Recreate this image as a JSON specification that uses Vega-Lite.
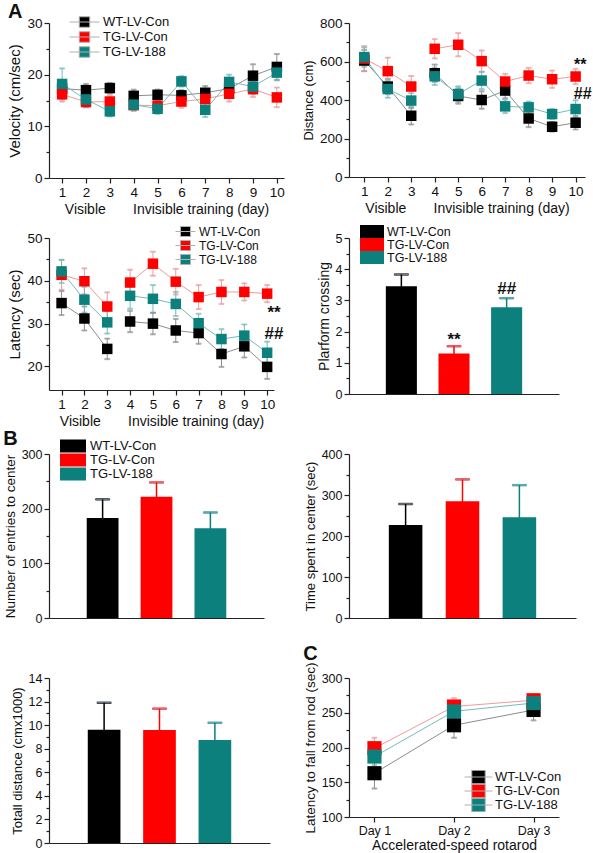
{
  "$schema": "https://vega.github.io/schema/vega-lite/v6.json",
  "background": "white",
  "padding": {"left": 3, "top": 2, "right": 2, "bottom": 2},
  "columns": 2,
  "bounds": "flush",
  "align": "each",
  "spacing": {"row": 60, "column": 65},
  "resolve": {"scale": {"color": "independent", "stroke": "independent"}, "legend": {"color": "independent", "stroke": "independent"}},
  "datasets": {
    "vel": [
      {"day":1,"group":"WT-LV-Con","phase":"v","mean":17.3,"se":1.5},
      {"day":2,"group":"WT-LV-Con","phase":"v","mean":17.0,"se":1.2},
      {"day":3,"group":"WT-LV-Con","phase":"v","mean":17.4,"se":1.0},
      {"day":4,"group":"WT-LV-Con","phase":"i","mean":15.9,"se":1.2},
      {"day":5,"group":"WT-LV-Con","phase":"i","mean":16.1,"se":1.0},
      {"day":6,"group":"WT-LV-Con","phase":"i","mean":16.0,"se":1.0},
      {"day":7,"group":"WT-LV-Con","phase":"i","mean":16.5,"se":1.3},
      {"day":8,"group":"WT-LV-Con","phase":"i","mean":17.3,"se":1.5},
      {"day":9,"group":"WT-LV-Con","phase":"i","mean":19.8,"se":2.2},
      {"day":10,"group":"WT-LV-Con","phase":"i","mean":21.5,"se":2.5},
      {"day":1,"group":"TG-LV-Con","phase":"v","mean":16.2,"se":1.4},
      {"day":2,"group":"TG-LV-Con","phase":"v","mean":14.7,"se":1.0},
      {"day":3,"group":"TG-LV-Con","phase":"v","mean":14.8,"se":1.2},
      {"day":4,"group":"TG-LV-Con","phase":"i","mean":14.1,"se":1.0},
      {"day":5,"group":"TG-LV-Con","phase":"i","mean":14.0,"se":1.0},
      {"day":6,"group":"TG-LV-Con","phase":"i","mean":14.8,"se":1.2},
      {"day":7,"group":"TG-LV-Con","phase":"i","mean":15.3,"se":1.5},
      {"day":8,"group":"TG-LV-Con","phase":"i","mean":16.3,"se":1.5},
      {"day":9,"group":"TG-LV-Con","phase":"i","mean":17.2,"se":1.5},
      {"day":10,"group":"TG-LV-Con","phase":"i","mean":15.6,"se":1.9},
      {"day":1,"group":"TG-LV-188","phase":"v","mean":18.2,"se":3.0},
      {"day":2,"group":"TG-LV-188","phase":"v","mean":15.2,"se":1.5},
      {"day":3,"group":"TG-LV-188","phase":"v","mean":12.9,"se":1.0},
      {"day":4,"group":"TG-LV-188","phase":"i","mean":14.2,"se":1.2},
      {"day":5,"group":"TG-LV-188","phase":"i","mean":13.4,"se":1.0},
      {"day":6,"group":"TG-LV-188","phase":"i","mean":18.7,"se":1.0},
      {"day":7,"group":"TG-LV-188","phase":"i","mean":13.2,"se":1.4},
      {"day":8,"group":"TG-LV-188","phase":"i","mean":18.6,"se":1.4},
      {"day":9,"group":"TG-LV-188","phase":"i","mean":17.7,"se":1.5},
      {"day":10,"group":"TG-LV-188","phase":"i","mean":20.4,"se":1.5}
    ],
    "dist": [
      {"day":1,"group":"WT-LV-Con","phase":"v","mean":605,"se":55},
      {"day":2,"group":"WT-LV-Con","phase":"v","mean":470,"se":40},
      {"day":3,"group":"WT-LV-Con","phase":"v","mean":318,"se":45},
      {"day":4,"group":"WT-LV-Con","phase":"i","mean":539,"se":45},
      {"day":5,"group":"WT-LV-Con","phase":"i","mean":421,"se":40},
      {"day":6,"group":"WT-LV-Con","phase":"i","mean":400,"se":45},
      {"day":7,"group":"WT-LV-Con","phase":"i","mean":449,"se":40},
      {"day":8,"group":"WT-LV-Con","phase":"i","mean":304,"se":45},
      {"day":9,"group":"WT-LV-Con","phase":"i","mean":261,"se":25},
      {"day":10,"group":"WT-LV-Con","phase":"i","mean":282,"se":35},
      {"day":1,"group":"TG-LV-Con","phase":"v","mean":615,"se":65},
      {"day":2,"group":"TG-LV-Con","phase":"v","mean":550,"se":70},
      {"day":3,"group":"TG-LV-Con","phase":"v","mean":470,"se":55},
      {"day":4,"group":"TG-LV-Con","phase":"i","mean":666,"se":50},
      {"day":5,"group":"TG-LV-Con","phase":"i","mean":687,"se":60},
      {"day":6,"group":"TG-LV-Con","phase":"i","mean":602,"se":55},
      {"day":7,"group":"TG-LV-Con","phase":"i","mean":496,"se":40},
      {"day":8,"group":"TG-LV-Con","phase":"i","mean":527,"se":40},
      {"day":9,"group":"TG-LV-Con","phase":"i","mean":508,"se":45},
      {"day":10,"group":"TG-LV-Con","phase":"i","mean":522,"se":40},
      {"day":1,"group":"TG-LV-188","phase":"v","mean":623,"se":50},
      {"day":2,"group":"TG-LV-188","phase":"v","mean":457,"se":45},
      {"day":3,"group":"TG-LV-188","phase":"v","mean":397,"se":40},
      {"day":4,"group":"TG-LV-188","phase":"i","mean":523,"se":45},
      {"day":5,"group":"TG-LV-188","phase":"i","mean":431,"se":40},
      {"day":6,"group":"TG-LV-188","phase":"i","mean":501,"se":45},
      {"day":7,"group":"TG-LV-188","phase":"i","mean":367,"se":35},
      {"day":8,"group":"TG-LV-188","phase":"i","mean":362,"se":30},
      {"day":9,"group":"TG-LV-188","phase":"i","mean":327,"se":25},
      {"day":10,"group":"TG-LV-188","phase":"i","mean":353,"se":45}
    ],
    "lat": [
      {"day":1,"group":"WT-LV-Con","phase":"v","mean":34.8,"se":2.8},
      {"day":2,"group":"WT-LV-Con","phase":"v","mean":31.2,"se":2.8},
      {"day":3,"group":"WT-LV-Con","phase":"v","mean":24.1,"se":2.4},
      {"day":4,"group":"WT-LV-Con","phase":"i","mean":30.5,"se":2.5},
      {"day":5,"group":"WT-LV-Con","phase":"i","mean":30.0,"se":2.5},
      {"day":6,"group":"WT-LV-Con","phase":"i","mean":28.4,"se":2.7},
      {"day":7,"group":"WT-LV-Con","phase":"i","mean":27.8,"se":2.5},
      {"day":8,"group":"WT-LV-Con","phase":"i","mean":22.9,"se":3.0},
      {"day":9,"group":"WT-LV-Con","phase":"i","mean":24.7,"se":2.6},
      {"day":10,"group":"WT-LV-Con","phase":"i","mean":19.9,"se":2.8},
      {"day":1,"group":"TG-LV-Con","phase":"v","mean":41.4,"se":3.5},
      {"day":2,"group":"TG-LV-Con","phase":"v","mean":39.9,"se":3.0},
      {"day":3,"group":"TG-LV-Con","phase":"v","mean":34.0,"se":3.3},
      {"day":4,"group":"TG-LV-Con","phase":"i","mean":39.6,"se":3.0},
      {"day":5,"group":"TG-LV-Con","phase":"i","mean":44.0,"se":2.8},
      {"day":6,"group":"TG-LV-Con","phase":"i","mean":39.8,"se":3.0},
      {"day":7,"group":"TG-LV-Con","phase":"i","mean":36.2,"se":2.8},
      {"day":8,"group":"TG-LV-Con","phase":"i","mean":37.4,"se":2.8},
      {"day":9,"group":"TG-LV-Con","phase":"i","mean":37.4,"se":2.0},
      {"day":10,"group":"TG-LV-Con","phase":"i","mean":37.0,"se":2.0},
      {"day":1,"group":"TG-LV-188","phase":"v","mean":42.2,"se":2.7},
      {"day":2,"group":"TG-LV-188","phase":"v","mean":35.6,"se":3.0},
      {"day":3,"group":"TG-LV-188","phase":"v","mean":30.3,"se":2.6},
      {"day":4,"group":"TG-LV-188","phase":"i","mean":36.5,"se":3.0},
      {"day":5,"group":"TG-LV-188","phase":"i","mean":35.8,"se":3.2},
      {"day":6,"group":"TG-LV-188","phase":"i","mean":34.6,"se":2.8},
      {"day":7,"group":"TG-LV-188","phase":"i","mean":30.1,"se":2.2},
      {"day":8,"group":"TG-LV-188","phase":"i","mean":26.4,"se":2.3},
      {"day":9,"group":"TG-LV-188","phase":"i","mean":27.2,"se":2.6},
      {"day":10,"group":"TG-LV-188","phase":"i","mean":23.2,"se":2.6}
    ],
    "distSig": [
      {"day":10.2,"v":557,"t":"**"},
      {"day":10.3,"v":405,"t":"##"}
    ],
    "latSig": [
      {"day":10.3,"v":31.2,"t":"**"},
      {"day":10.3,"v":26.3,"t":"##"}
    ],
    "plat": [
      {"group":"WT-LV-Con","mean":3.45,"se":0.38},
      {"group":"TG-LV-Con","mean":1.3,"se":0.23},
      {"group":"TG-LV-188","mean":2.78,"se":0.29}
    ],
    "platSig": [
      {"group":"TG-LV-Con","v":1.58,"t":"**"},
      {"group":"TG-LV-188","v":3.2,"t":"##"}
    ],
    "entries": [
      {"group":"WT-LV-Con","mean":183,"se":34},
      {"group":"TG-LV-Con","mean":222,"se":26},
      {"group":"TG-LV-188","mean":164,"se":29}
    ],
    "timec": [
      {"group":"WT-LV-Con","mean":227,"se":51},
      {"group":"TG-LV-Con","mean":285,"se":53},
      {"group":"TG-LV-188","mean":246,"se":78}
    ],
    "total": [
      {"group":"WT-LV-Con","mean":9.6,"se":2.3},
      {"group":"TG-LV-Con","mean":9.58,"se":1.82},
      {"group":"TG-LV-188","mean":8.75,"se":1.45}
    ],
    "rota": [
      {"day":"Day 1","group":"WT-LV-Con","mean":163,"se":22},
      {"day":"Day 2","group":"WT-LV-Con","mean":232,"se":18},
      {"day":"Day 3","group":"WT-LV-Con","mean":254,"se":15},
      {"day":"Day 1","group":"TG-LV-Con","mean":199,"se":15},
      {"day":"Day 2","group":"TG-LV-Con","mean":259,"se":12},
      {"day":"Day 3","group":"TG-LV-Con","mean":268,"se":8},
      {"day":"Day 1","group":"TG-LV-188","mean":187,"se":12},
      {"day":"Day 2","group":"TG-LV-188","mean":252,"se":10},
      {"day":"Day 3","group":"TG-LV-188","mean":264,"se":12}
    ]
  },
  "concat": [
    {
      "title": {"text": "A", "offset": -7},
      "width": 235, "height": 155,
      "data": {"name": "vel"},
      "encoding": {
        "x": {"field": "day", "type": "quantitative", "title": "Visible\u00a0\u00a0\u00a0\u00a0\u00a0\u00a0\u00a0Invisible training (day)",
              "scale": {"domain": [0.45, 10.3], "nice": false, "zero": false},
              "axis": {"values": [1,2,3,4,5,6,7,8,9,10], "labelFontSize": 13.5}},
        "y": {"field": "mean", "type": "quantitative", "title": "Velocity (cm/sec)",
              "scale": {"domain": [0, 30], "nice": false},
              "axis": {"values": [0,5,10,15,20,25,30], "labelExpr": "datum.value % 10 === 0 ? datum.label : ''",
                       "tickSize": {"condition": {"test": "datum.value % 10 === 0", "value": 5}, "value": 3},
                       "titleFontSize": 15, "labelFontSize": 13.5}}
      },
      "layer": [
        {"mark": {"type": "line", "strokeWidth": 1},
         "encoding": {"detail": {"field": "phase"},
                      "stroke": {"field": "group", "type": "nominal", "sort": null, "legend": null,
                                 "scale": {"range": ["#8c8c8c","#f29a9a","#74bcba"]}}}},
        {"mark": {"type": "errorbar", "ticks": {"size": 5}, "thickness": 1},
         "encoding": {"yError": {"field": "se"},
                      "stroke": {"field": "group", "type": "nominal", "sort": null, "legend": null,
                                 "scale": {"range": ["#8c8c8c","#f29a9a","#74bcba"]}}}},
        {"mark": {"type": "point", "shape": "square", "filled": true, "size": 110, "opacity": 1},
         "encoding": {"color": {"field": "group", "type": "nominal", "sort": null,
                                "scale": {"domain": ["WT-LV-Con","TG-LV-Con","TG-LV-188"], "range": ["#000000","#ff0000","#0b807d"]},
                                "legend": {"title": null, "orient": "none", "legendX": 20, "legendY": -8, "padding": 0,
                                           "symbolType": "M-1,0H1M-0.35,-0.35H0.35V0.35H-0.35Z", "symbolSize": 900,
                                           "symbolStrokeColor": "#b0b0b0", "symbolStrokeWidth": 1,
                                           "clipHeight": 14, "rowPadding": 1, "labelOffset": 3, "labelFontSize": 13}}}}
      ]
    },
    {
      "width": 236, "height": 154,
      "encoding": {
        "x": {"field": "day", "type": "quantitative", "title": "Visible\u00a0\u00a0\u00a0\u00a0\u00a0\u00a0\u00a0Invisible training (day)",
              "scale": {"domain": [0.35, 10.4], "nice": false, "zero": false},
              "axis": {"values": [1,2,3,4,5,6,7,8,9,10], "labelFontSize": 13.5}},
        "y": {"field": "mean", "type": "quantitative", "title": "Distance (cm)",
              "scale": {"domain": [0, 800], "nice": false},
              "axis": {"values": [0,100,200,300,400,500,600,700,800], "labelExpr": "datum.value % 200 === 0 ? datum.label : ''",
                       "tickSize": {"condition": {"test": "datum.value % 200 === 0", "value": 5}, "value": 3},
                       "titleFontSize": 13, "labelFontSize": 13.5}}
      },
      "layer": [
        {"data": {"name": "dist"}, "mark": {"type": "line", "strokeWidth": 1},
         "encoding": {"detail": {"field": "phase"},
                      "stroke": {"field": "group", "type": "nominal", "sort": null, "legend": null,
                                 "scale": {"range": ["#8c8c8c","#f29a9a","#74bcba"]}}}},
        {"data": {"name": "dist"}, "mark": {"type": "errorbar", "ticks": {"size": 5}, "thickness": 1},
         "encoding": {"yError": {"field": "se"},
                      "stroke": {"field": "group", "type": "nominal", "sort": null, "legend": null,
                                 "scale": {"range": ["#8c8c8c","#f29a9a","#74bcba"]}}}},
        {"data": {"name": "dist"}, "mark": {"type": "point", "shape": "square", "filled": true, "size": 110, "opacity": 1},
         "encoding": {"color": {"field": "group", "type": "nominal", "sort": null, "legend": null,
                                "scale": {"domain": ["WT-LV-Con","TG-LV-Con","TG-LV-188"], "range": ["#000000","#ff0000","#0b807d"]}}}},
        {"data": {"name": "distSig"}, "mark": {"type": "text", "fontSize": 16, "fontWeight": "bold", "baseline": "alphabetic", "align": "center", "color": "#111"},
         "encoding": {"y": {"field": "v", "type": "quantitative", "title": "Distance (cm)"}, "text": {"field": "t"}}}
      ]
    },
    {
      "width": 225, "height": 152,
      "encoding": {
        "x": {"field": "day", "type": "quantitative", "title": "Visible\u00a0\u00a0\u00a0\u00a0\u00a0\u00a0\u00a0Invisible training (day)",
              "scale": {"domain": [0.45, 10.3], "nice": false, "zero": false},
              "axis": {"values": [1,2,3,4,5,6,7,8,9,10], "labelFontSize": 13.5}},
        "y": {"field": "mean", "type": "quantitative", "title": "Latency (sec)",
              "scale": {"domain": [14.5, 50], "nice": false, "zero": false},
              "axis": {"values": [20,25,30,35,40,45,50], "labelExpr": "datum.value % 10 === 0 ? datum.label : ''",
                       "tickSize": {"condition": {"test": "datum.value % 10 === 0", "value": 5}, "value": 3},
                       "titleFontSize": 15, "labelFontSize": 13.5}}
      },
      "layer": [
        {"data": {"name": "lat"}, "mark": {"type": "line", "strokeWidth": 1},
         "encoding": {"detail": {"field": "phase"},
                      "stroke": {"field": "group", "type": "nominal", "sort": null, "legend": null,
                                 "scale": {"range": ["#8c8c8c","#f29a9a","#74bcba"]}}}},
        {"data": {"name": "lat"}, "mark": {"type": "errorbar", "ticks": {"size": 5}, "thickness": 1},
         "encoding": {"yError": {"field": "se"},
                      "stroke": {"field": "group", "type": "nominal", "sort": null, "legend": null,
                                 "scale": {"range": ["#8c8c8c","#f29a9a","#74bcba"]}}}},
        {"data": {"name": "lat"}, "mark": {"type": "point", "shape": "square", "filled": true, "size": 110, "opacity": 1},
         "encoding": {"color": {"field": "group", "type": "nominal", "sort": null,
                                "scale": {"domain": ["WT-LV-Con","TG-LV-Con","TG-LV-188"], "range": ["#000000","#ff0000","#0b807d"]},
                                "legend": {"title": null, "orient": "none", "legendX": 126, "legendY": -13, "padding": 0,
                                           "symbolType": "M-1,0H1M-0.5,-0.5H0.5V0.5H-0.5Z", "symbolSize": 400,
                                           "symbolStrokeColor": "#b0b0b0", "symbolStrokeWidth": 1,
                                           "clipHeight": 13, "rowPadding": 1, "labelOffset": 3, "labelFontSize": 12}}}},
        {"data": {"name": "latSig"}, "mark": {"type": "text", "fontSize": 17, "fontWeight": "bold", "baseline": "alphabetic", "align": "center", "color": "#111"},
         "encoding": {"y": {"field": "v", "type": "quantitative", "title": "Latency (sec)"}, "text": {"field": "t"}}}
      ]
    },
    {
      "width": 210, "height": 156,
      "encoding": {
        "x": {"field": "group", "type": "nominal", "sort": null, "title": null,
              "scale": {"domain": ["WT-LV-Con","TG-LV-Con","TG-LV-188"], "paddingInner": 0.41, "paddingOuter": 0.7},
              "axis": {"labels": false, "ticks": false}},
        "y": {"field": "mean", "type": "quantitative", "title": "Plarform crossing",
              "scale": {"domain": [0, 5], "nice": false},
              "axis": {"values": [0,0.5,1,1.5,2,2.5,3,3.5,4,4.5,5], "format": "~g", "labelExpr": "datum.value % 1 === 0 ? datum.label : ''",
                       "tickSize": {"condition": {"test": "datum.value % 1 === 0", "value": 5}, "value": 3},
                       "titleFontSize": 14, "labelFontSize": 12.5}}
      },
      "layer": [
        {"data": {"name": "plat"}, "mark": {"type": "errorbar", "ticks": {"size": 14}, "thickness": 1.5},
         "encoding": {"yError": {"field": "se"},
                      "stroke": {"field": "group", "type": "nominal", "sort": null, "legend": null,
                                 "scale": {"range": ["#000000","#ff0000","#0b807d"]}}}},
        {"data": {"name": "plat"}, "mark": {"type": "bar"},
         "encoding": {"color": {"field": "group", "type": "nominal", "sort": null,
                                "scale": {"domain": ["WT-LV-Con","TG-LV-Con","TG-LV-188"], "range": ["#000000","#ff0000","#0b807d"]},
                                "legend": {"title": null, "orient": "none", "legendX": 11, "legendY": -13, "padding": 0,
                                           "symbolType": "M-1,-0.54H1V0.54H-1Z", "symbolSize": 576, "symbolStrokeWidth": 0,
                                           "clipHeight": 13, "rowPadding": 0, "labelOffset": 3, "labelFontSize": 12.5}}}},
        {"data": {"name": "platSig"}, "mark": {"type": "text", "fontSize": 17, "fontWeight": "bold", "baseline": "alphabetic", "align": "center", "color": "#111"},
         "encoding": {"y": {"field": "v", "type": "quantitative", "title": "Plarform crossing"}, "text": {"field": "t"}}}
      ]
    },
    {
      "title": {"text": "B", "offset": -10},
      "width": 215, "height": 164,
      "data": {"name": "entries"},
      "encoding": {
        "x": {"field": "group", "type": "nominal", "sort": null, "title": null,
              "scale": {"domain": ["WT-LV-Con","TG-LV-Con","TG-LV-188"], "paddingInner": 0.41, "paddingOuter": 0.7},
              "axis": {"labels": false, "ticks": false}},
        "y": {"field": "mean", "type": "quantitative", "title": "Number of entries to center",
              "scale": {"domain": [0, 300], "nice": false},
              "axis": {"values": [0,50,100,150,200,250,300], "labelExpr": "datum.value % 100 === 0 ? datum.label : ''",
                       "tickSize": {"condition": {"test": "datum.value % 100 === 0", "value": 5}, "value": 3},
                       "titleFontSize": 13.5, "labelFontSize": 12.5}}
      },
      "layer": [
        {"mark": {"type": "errorbar", "ticks": {"size": 14}, "thickness": 1.5},
         "encoding": {"yError": {"field": "se"},
                      "stroke": {"field": "group", "type": "nominal", "sort": null, "legend": null,
                                 "scale": {"range": ["#000000","#ff0000","#0b807d"]}}}},
        {"mark": {"type": "bar"},
         "encoding": {"color": {"field": "group", "type": "nominal", "sort": null,
                                "scale": {"domain": ["WT-LV-Con","TG-LV-Con","TG-LV-188"], "range": ["#000000","#ff0000","#0b807d"]},
                                "legend": {"title": null, "orient": "none", "legendX": 11, "legendY": -15, "padding": 0,
                                           "symbolType": "M-1,-0.5H1V0.5H-1Z", "symbolSize": 676, "symbolStrokeWidth": 0,
                                           "clipHeight": 14, "rowPadding": 0, "labelOffset": 4, "labelFontSize": 13}}}}
      ]
    },
    {
      "width": 227, "height": 164,
      "data": {"name": "timec"},
      "encoding": {
        "x": {"field": "group", "type": "nominal", "sort": null, "title": null,
              "scale": {"domain": ["WT-LV-Con","TG-LV-Con","TG-LV-188"], "paddingInner": 0.41, "paddingOuter": 0.7},
              "axis": {"labels": false, "ticks": false}},
        "y": {"field": "mean", "type": "quantitative", "title": "Time spent in center (sec)",
              "scale": {"domain": [0, 400], "nice": false},
              "axis": {"values": [0,50,100,150,200,250,300,350,400], "labelExpr": "datum.value % 100 === 0 ? datum.label : ''",
                       "tickSize": {"condition": {"test": "datum.value % 100 === 0", "value": 5}, "value": 3},
                       "titleFontSize": 13, "labelFontSize": 12.5}}
      },
      "layer": [
        {"mark": {"type": "errorbar", "ticks": {"size": 14}, "thickness": 1.5},
         "encoding": {"yError": {"field": "se"},
                      "stroke": {"field": "group", "type": "nominal", "sort": null, "legend": null,
                                 "scale": {"range": ["#000000","#ff0000","#0b807d"]}}}},
        {"mark": {"type": "bar"},
         "encoding": {"color": {"field": "group", "type": "nominal", "sort": null, "legend": null,
                                "scale": {"domain": ["WT-LV-Con","TG-LV-Con","TG-LV-188"], "range": ["#000000","#ff0000","#0b807d"]}}}}
      ]
    },
    {
      "width": 221, "height": 165,
      "data": {"name": "total"},
      "encoding": {
        "x": {"field": "group", "type": "nominal", "sort": null, "title": null,
              "scale": {"domain": ["WT-LV-Con","TG-LV-Con","TG-LV-188"], "paddingInner": 0.41, "paddingOuter": 0.7},
              "axis": {"labels": false, "ticks": false}},
        "y": {"field": "mean", "type": "quantitative", "title": "Totall distance (cmx1000)",
              "scale": {"domain": [0, 14], "nice": false},
              "axis": {"values": [0,1,2,3,4,5,6,7,8,9,10,11,12,13,14], "labelExpr": "datum.value % 2 === 0 ? datum.label : ''",
                       "tickSize": {"condition": {"test": "datum.value % 2 === 0", "value": 5}, "value": 3},
                       "titleFontSize": 13, "labelFontSize": 12.5}}
      },
      "layer": [
        {"mark": {"type": "errorbar", "ticks": {"size": 14}, "thickness": 1.5},
         "encoding": {"yError": {"field": "se"},
                      "stroke": {"field": "group", "type": "nominal", "sort": null, "legend": null,
                                 "scale": {"range": ["#000000","#ff0000","#0b807d"]}}}},
        {"mark": {"type": "bar"},
         "encoding": {"color": {"field": "group", "type": "nominal", "sort": null, "legend": null,
                                "scale": {"domain": ["WT-LV-Con","TG-LV-Con","TG-LV-188"], "range": ["#000000","#ff0000","#0b807d"]}}}}
      ]
    },
    {
      "title": {"text": "C", "offset": -2},
      "width": 210, "height": 139,
      "data": {"name": "rota"},
      "encoding": {
        "x": {"field": "day", "type": "ordinal", "title": "Accelerated-speed rotarod",
              "scale": {"type": "point", "padding": 0.32},
              "axis": {"labelAngle": 0, "labelFontSize": 12.5, "titleFontSize": 14, "titlePadding": 2}},
        "y": {"field": "mean", "type": "quantitative", "title": "Latency to fall from rod (sec)",
              "scale": {"domain": [100, 300], "nice": false, "zero": false},
              "axis": {"values": [100,125,150,175,200,225,250,275,300], "labelExpr": "datum.value % 50 === 0 ? datum.label : ''",
                       "tickSize": {"condition": {"test": "datum.value % 50 === 0", "value": 5}, "value": 3},
                       "titleFontSize": 13.5, "labelFontSize": 12.5}}
      },
      "layer": [
        {"mark": {"type": "line", "strokeWidth": 1},
         "encoding": {"stroke": {"field": "group", "type": "nominal", "sort": null, "legend": null,
                                 "scale": {"range": ["#8c8c8c","#f29a9a","#74bcba"]}}}},
        {"mark": {"type": "errorbar", "ticks": {"size": 5}, "thickness": 1},
         "encoding": {"yError": {"field": "se"},
                      "stroke": {"field": "group", "type": "nominal", "sort": null, "legend": null,
                                 "scale": {"range": ["#a0a0a0","#f4a8a8","#8cc8c6"]}}}},
        {"mark": {"type": "point", "shape": "square", "filled": true, "size": 200, "opacity": 1},
         "encoding": {"color": {"field": "group", "type": "nominal", "sort": null,
                                "scale": {"domain": ["WT-LV-Con","TG-LV-Con","TG-LV-188"], "range": ["#000000","#ff0000","#0b807d"]},
                                "legend": {"title": null, "orient": "none", "legendX": 115, "legendY": 92, "padding": 0,
                                           "symbolType": "M-1,0H1M-0.48,-0.48H0.48V0.48H-0.48Z", "symbolSize": 784,
                                           "symbolStrokeColor": "#b0b0b0", "symbolStrokeWidth": 1,
                                           "clipHeight": 14, "rowPadding": 0, "labelOffset": 2, "labelFontSize": 13}}}}
      ]
    }
  ],
  "config": {
    "font": "Liberation Sans",
    "view": {"stroke": null},
    "title": {"fontSize": 20, "fontWeight": "bold", "anchor": "start", "frame": "bounds", "color": "#111"},
    "axis": {"grid": false, "domainColor": "#222", "tickColor": "#222", "labelColor": "#111", "titleColor": "#111",
             "labelFontSize": 13, "titleFontSize": 14, "titleFontWeight": "normal", "tickSize": 5, "labelPadding": 2,
             "domainWidth": 1.2, "tickWidth": 1.2, "titlePadding": 4},
    "legend": {"labelColor": "#111"}
  }
}
